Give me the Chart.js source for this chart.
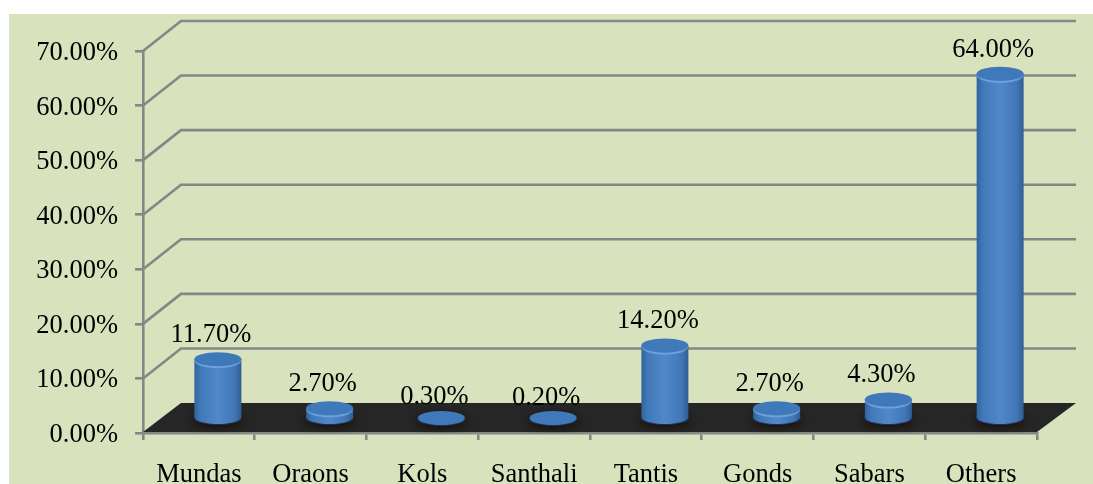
<!DOCTYPE html>
<html>
<head>
<meta charset="utf-8">
<style>html,body{margin:0;padding:0;background:#fff}canvas{display:block}</style>
<script src="https://cdn.jsdelivr.net/npm/chart.js@4/dist/chart.umd.js"></script>
</head>
<body>
<canvas id="c" width="1093" height="484"></canvas>
<script>
const categories = ["Mundas","Oraons","Kols","Santhali","Tantis","Gonds","Sabars","Others"];
const shares = [11.7, 2.7, 0.3, 0.2, 14.2, 2.7, 4.3, 64.0];
const yTicks = [0, 10, 20, 30, 40, 50, 60, 70];

const FONT = '26.5px "Liberation Serif", "Times New Roman", serif';
const GRID = '#868686';
const DX = 38, DY = 30;     // depth of the 3-D box
const SHIFT = 19;           // bars stand mid-way in the depth
const RY = 7;

function drawCylinder(ctx, el) {
  const cx = el.x + SHIFT, rx = el.width / 2;
  const top = Math.min(el.y - 10, 418);
  const base = Math.max(417, top);
  ctx.save();
  // soft shadow on the floor
  ctx.save();
  ctx.shadowColor = 'rgba(20,8,0,0.85)';
  ctx.shadowBlur = 9;
  ctx.shadowOffsetY = 2;
  ctx.fillStyle = '#1d2f4a';
  ctx.beginPath();
  ctx.ellipse(cx, base + 1, rx + 1, RY, 0, 0, Math.PI * 2);
  ctx.fill();
  ctx.restore();
  if (base > top + 0.5) {
    const g = ctx.createLinearGradient(cx - rx, 0, cx + rx, 0);
    g.addColorStop(0, '#33639c');
    g.addColorStop(0.14, '#4279ba');
    g.addColorStop(0.5, '#4f88cb');
    g.addColorStop(0.85, '#4277b6');
    g.addColorStop(1, '#305d94');
    ctx.fillStyle = g;
    ctx.beginPath();
    ctx.moveTo(cx - rx, top);
    ctx.lineTo(cx - rx, base);
    ctx.ellipse(cx, base, rx, RY, 0, Math.PI, 0, true);
    ctx.lineTo(cx + rx, top);
    ctx.closePath();
    ctx.fill();
    // lit rim below the cap
    ctx.strokeStyle = 'rgba(125,175,230,0.7)';
    ctx.lineWidth = 2;
    ctx.beginPath();
    ctx.ellipse(cx, top + 1, rx - 1, RY, 0, Math.PI, 0, true);
    ctx.stroke();
  }
  ctx.fillStyle = '#4079ba';
  ctx.beginPath();
  ctx.ellipse(cx, top, rx, RY, 0, 0, Math.PI * 2);
  ctx.fill();
  ctx.restore();
}

const box3d = {
  id: 'box3d',
  beforeDraw(chart) {
    const ctx = chart.ctx;
    ctx.save();
    ctx.fillStyle = '#fff';
    ctx.fillRect(0, 0, chart.width, chart.height);
    ctx.fillStyle = '#d8e3bd';
    ctx.fillRect(9, 14, chart.width - 9, chart.height - 14);
    ctx.restore();
    // nudge the value-axis labels to sit on their ticks as in the reference
    chart.scales.y.getLabelItems().forEach(it => {
      if (!it.nudged) { it.options.translation[1] += 2; it.nudged = true; }
    });
  },
  afterDatasetsUpdate(chart) {
    chart.getDatasetMeta(0).data.forEach(el => {
      el.draw = function (ctx) { drawCylinder(ctx, this); };
    });
  },
  beforeDatasetsDraw(chart) {
    const ctx = chart.ctx, a = chart.chartArea, y = chart.scales.y;
    ctx.save();
    ctx.strokeStyle = GRID;
    ctx.lineWidth = 2.6;
    y.ticks.forEach(t => {
      if (t.value === 0) return;
      const py = y.getPixelForValue(t.value);
      ctx.beginPath();
      ctx.moveTo(a.left, py);
      ctx.lineTo(a.left + DX, py - DY);
      ctx.lineTo(a.right + DX + 1, py - DY);
      ctx.stroke();
    });
    const p0 = y.getPixelForValue(0);
    ctx.fillStyle = '#262626';
    ctx.beginPath();
    ctx.moveTo(a.left, p0 - 1);
    ctx.lineTo(a.left + DX, p0 - DY);
    ctx.lineTo(a.right + DX + 1, p0 - DY);
    ctx.lineTo(a.right, p0 - 1);
    ctx.closePath();
    ctx.fill();
    ctx.restore();
  },
  afterDatasetsDraw(chart) {
    const ctx = chart.ctx, y = chart.scales.y;
    ctx.save();
    ctx.font = FONT;
    ctx.fillStyle = '#000';
    ctx.textAlign = 'center';
    ctx.textBaseline = 'middle';
    chart.getDatasetMeta(0).data.forEach((el, i) => {
      ctx.fillText(shares[i].toFixed(2) + '%', el.x + SHIFT - 7, y.getPixelForValue(shares[i]) - 34);
    });
    ctx.restore();
  }
};

new Chart(document.getElementById('c'), {
  type: 'bar',
  data: {
    labels: categories,
    datasets: [{ data: shares, barThickness: 47, backgroundColor: '#4a83c6' }]
  },
  options: {
    responsive: false,
    animation: false,
    layout: { padding: { left: 0, top: 51, right: 56, bottom: 0 } },
    plugins: { legend: { display: false }, tooltip: { enabled: false } },
    scales: {
      y: {
        min: 0, max: 70,
        afterFit(s) { s.width = 143; },
        afterBuildTicks(s) { s.ticks = yTicks.map(v => ({ value: v })); },
        border: { color: GRID, width: 2.6 },
        grid: { drawOnChartArea: false, drawTicks: true, tickLength: 8, color: GRID, lineWidth: 2.6 },
        ticks: {
          padding: 17, color: '#000',
          font: { family: '"Liberation Serif", "Times New Roman", serif', size: 26.5 },
          callback: v => v.toFixed(2) + '%'
        }
      },
      x: {
        afterFit(s) { s.height = 51; },
        border: { color: GRID, width: 2.6 },
        grid: { drawOnChartArea: false, drawTicks: true, tickLength: 7, color: GRID, lineWidth: 2.6 },
        ticks: {
          padding: 19, color: '#000', maxRotation: 0, minRotation: 0, autoSkip: false,
          font: { family: '"Liberation Serif", "Times New Roman", serif', size: 26.5 }
        }
      }
    }
  },
  plugins: [box3d]
});
</script>
</body>
</html>
